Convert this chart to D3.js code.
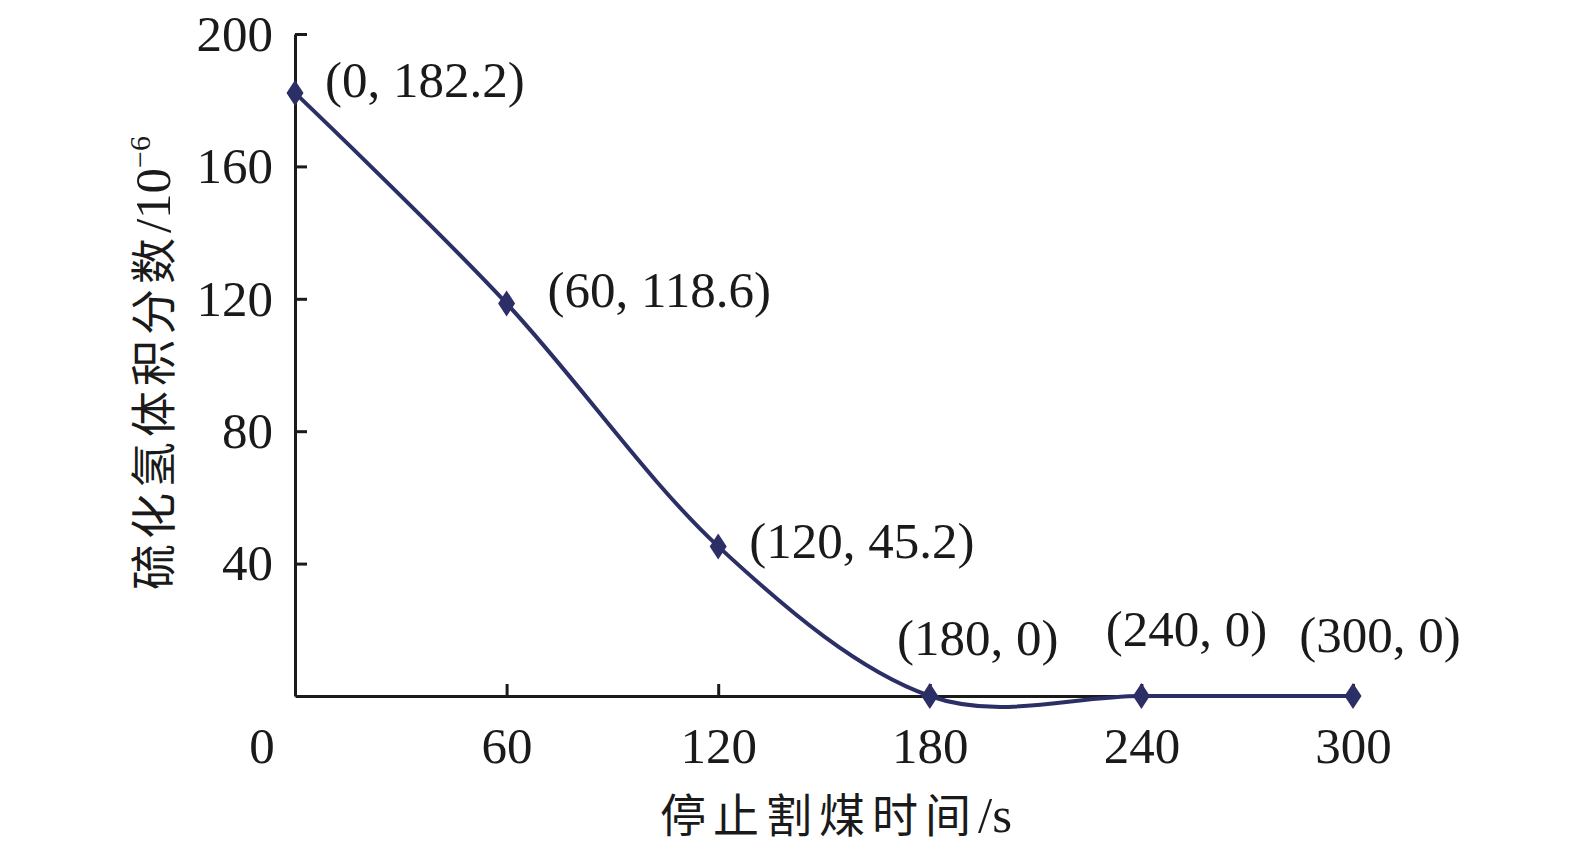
<!DOCTYPE html>
<html>
<head>
<meta charset="utf-8">
<script src="https://cdn.jsdelivr.net/npm/d3@7"></script>
<style>
  body { margin: 0; background: #fff; }
  text { font-family: "Liberation Serif", "Noto Sans CJK SC", serif; fill: #1a1a1a; }
</style>
</head>
<body>
<div id="chart"></div>
<script>
// data
var times = [0, 60, 120, 180, 240, 300];
var h2s = [182.2, 118.6, 45.2, 0, 0, 0];
var labels = ["(0, 182.2)", "(60, 118.6)", "(120, 45.2)", "(180, 0)", "(240, 0)", "(300, 0)"];
var xTicks = [60, 120, 180, 240, 300];
var yTicks = [40, 80, 120, 160, 200];

// label placement (the labels were moved by hand in the original)
var labelOffsets = [[30, -14, "start"], [41, -14, "start"], [31, -6, "start"],
                    [48, -59, "middle"], [45, -68, "middle"], [27, -62, "middle"]];

var W = 1575, H = 856;
var margin = {top: 34, right: 222, bottom: 160, left: 295},
    width = W - margin.left - margin.right,
    height = H - margin.top - margin.bottom;

var svg = d3.select("#chart").append("svg")
    .attr("width", W)
    .attr("height", H)
  .append("g")
    .attr("transform", "translate(" + margin.left + "," + margin.top + ")");

var x = d3.scaleLinear().domain([0, 300]).range([0, width]);
var y = d3.scaleLinear().domain([0, 200]).range([height, 0]);

var lineColor = "#2c2f66";
var fs = "51px";

// X axis, ticks pointing inward
var xAxis = svg.append("g")
    .attr("transform", "translate(0," + height + ")")
    .call(d3.axisBottom(x).tickValues(xTicks).tickSize(-12).tickPadding(30).tickSizeOuter(0));
xAxis.selectAll("text").style("font-size", fs).attr("dy", "0.35em").attr("y", 49);

// Y axis, ticks pointing inward
var yAxis = svg.append("g")
    .call(d3.axisLeft(y).tickValues(yTicks).tickSize(-12).tickPadding(22).tickSizeOuter(0));
yAxis.selectAll("text").style("font-size", fs);

svg.selectAll(".domain, .tick line").attr("stroke", "#1a1a1a").attr("stroke-width", 3);

// shared origin label
svg.append("text")
    .attr("x", -33)
    .attr("y", height + 49)
    .attr("dy", "0.35em")
    .style("text-anchor", "middle")
    .style("font-size", fs)
    .text("0");

// smoothed line
var line = d3.line()
    .x(function(d, i) { return x(times[i]); })
    .y(function(d) { return y(d); })
    .curve(d3.curveCardinal.tension(0));

svg.append("path")
    .datum(h2s)
    .attr("fill", "none")
    .attr("stroke", lineColor)
    .attr("stroke-width", 4)
    .attr("d", line);

// diamond markers
svg.selectAll(".marker")
    .data(h2s)
  .enter().append("path")
    .attr("class", "marker")
    .attr("transform", function(d, i) { return "translate(" + x(times[i]) + "," + y(d) + ")"; })
    .attr("d", "M0,-13L8.5,0L0,13L-8.5,0Z")
    .attr("fill", lineColor);

// point labels
svg.selectAll(".plabel")
    .data(h2s)
  .enter().append("text")
    .attr("class", "plabel")
    .attr("x", function(d, i) { return x(times[i]) + labelOffsets[i][0]; })
    .attr("y", function(d, i) { return y(d) + labelOffsets[i][1]; })
    .attr("dy", "0.35em")
    .style("text-anchor", function(d, i) { return labelOffsets[i][2]; })
    .style("font-size", fs)
    .text(function(d, i) { return labels[i]; });

// axis titles
var xt = svg.append("text")
    .attr("x", width / 2 + 12)
    .attr("y", height + 130)
    .attr("dy", "0.35em")
    .style("text-anchor", "middle");
xt.append("tspan").style("font-size", "46px").style("letter-spacing", "7px").text("停止割煤时间");
xt.append("tspan").style("font-size", fs).text("/s");

var yt = svg.append("text")
    .attr("transform", "translate(-131," + (height / 2 - 2) + ") rotate(-90)")
    .attr("dy", "0.35em")
    .style("text-anchor", "middle");
yt.append("tspan").style("font-size", "46px").style("letter-spacing", "5px").text("硫化氢体积分数");
yt.append("tspan").style("font-size", fs).text("/10");
yt.append("tspan").attr("dy", -20).style("font-size", "30px").text("−6");
</script>
</body>
</html>
